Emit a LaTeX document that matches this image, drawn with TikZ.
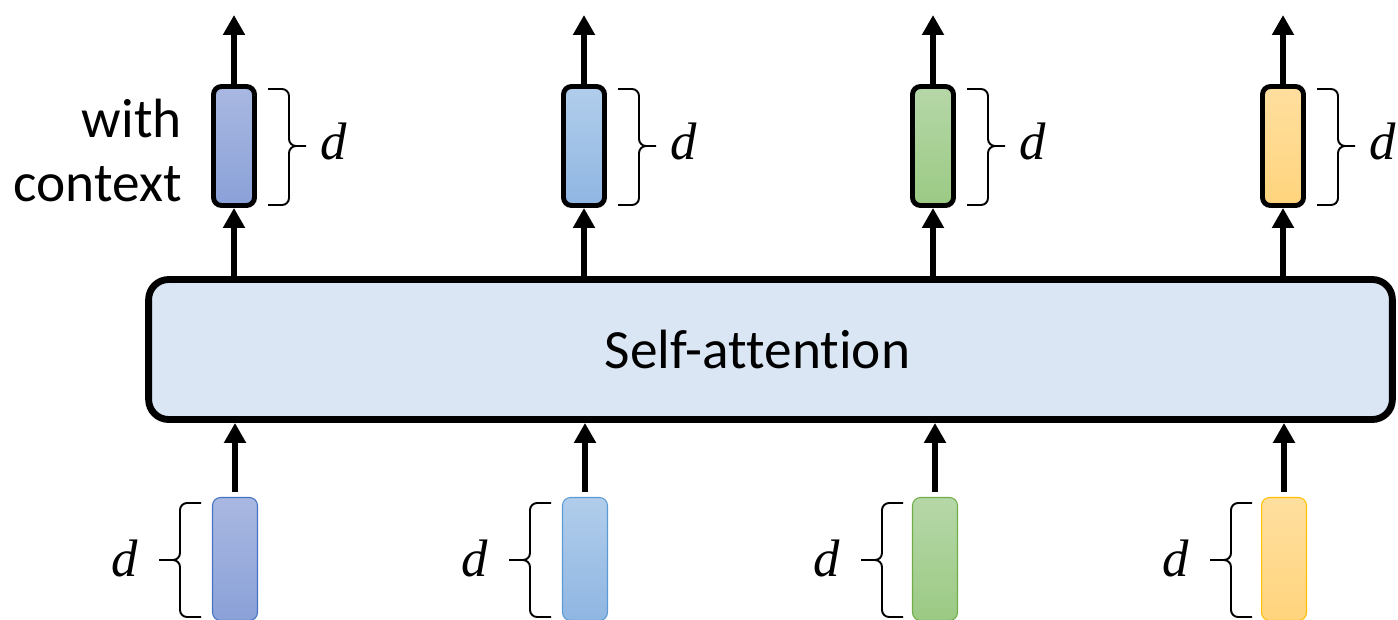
\documentclass[tikz,border=0pt]{standalone}
\usepackage{fontspec}
\setmainfont[Ligatures=NoCommon]{Carlito}
\newfontfamily\dfont{Liberation Serif}
\usetikzlibrary{arrows.meta,positioning}
\definecolor{saFill}{HTML}{DAE6F4}
\definecolor{bluA}{HTML}{A9B8E1}\definecolor{bluB}{HTML}{8AA1D8}\definecolor{bluL}{HTML}{4472C4}
\definecolor{skyA}{HTML}{B1CDEB}\definecolor{skyB}{HTML}{8FB6E2}\definecolor{skyL}{HTML}{5B9BD5}
\definecolor{grnA}{HTML}{B6D7A8}\definecolor{grnB}{HTML}{9BCA84}\definecolor{grnL}{HTML}{70AD47}
\definecolor{ylwA}{HTML}{FFDF9F}\definecolor{ylwB}{HTML}{FFD47D}\definecolor{ylwL}{HTML}{FFC000}
\tikzset{
  outbox/.style={draw=black,line width=2.8pt,rounded corners=0.16cm,minimum width=0.82cm,minimum height=2.38cm,inner sep=0pt},
  inbox/.style={draw,line width=0.6pt,rounded corners=0.16cm,minimum width=0.9cm,minimum height=2.46cm,inner sep=0pt},
  arr/.style={line width=3.9pt,-{Triangle[length=0.4cm,width=0.42cm]}},
  brc/.style={line width=1.1pt,rounded corners=4pt},
  dlab/.style={inner sep=0pt,font=\dfont\itshape\fontsize{30}{30}\selectfont}
}

\begin{document}
\begin{tikzpicture}[x=0.02cm,y=-0.02cm]
\useasboundingbox (0,0) rectangle (1398,619);
\node[draw,line width=3.9pt,rounded corners=0.4cm,fill=saFill,minimum width=24.88cm,minimum height=2.8cm,
  label={[xshift=-0.26cm,font=\fontsize{31.5}{36}\selectfont]center:Self-attention}] (sa) at (770.5,349.5) {};
% outputs
\node[outbox,top color=bluA,bottom color=bluB] (out1) at (234,146) {};
\node[outbox,top color=skyA,bottom color=skyB] (out2) at (584,146) {};
\node[outbox,top color=grnA,bottom color=grnB] (out3) at (933,146) {};
\node[outbox,top color=ylwA,bottom color=ylwB] (out4) at (1283,146) {};
\node[left=0.58cm of out1,yshift=-0.09cm,inner sep=0pt,align=right,font=\fontsize{31.5}{36}\selectfont] (ctx) {with\\context};
% inputs
\node[inbox,draw=bluL,top color=bluA,bottom color=bluB] (in1) at (235,559) {};
\node[inbox,draw=skyL,top color=skyA,bottom color=skyB] (in2) at (585,559) {};
\node[inbox,draw=grnL,top color=grnA,bottom color=grnB] (in3) at (935,559) {};
\node[inbox,draw=ylwL,top color=ylwA,bottom color=ylwB] (in4) at (1284,559) {};
\coordinate (top1) at (234,15);
\coordinate (top2) at (584,15);
\coordinate (top3) at (933,15);
\coordinate (top4) at (1283,15);
\draw[arr](out1.north)--(top1);
\draw[arr](out2.north)--(top2);
\draw[arr](out3.north)--(top3);
\draw[arr](out4.north)--(top4);
\draw[arr](sa.north-|out1)--(out1.south);
\draw[arr](sa.north-|out2)--(out2.south);
\draw[arr](sa.north-|out3)--(out3.south);
\draw[arr](sa.north-|out4)--(out4.south);
\draw[arr]([yshift=0.1cm]in1.north)--(in1|-sa.south);
\draw[arr]([yshift=0.1cm]in2.north)--(in2|-sa.south);
\draw[arr]([yshift=0.1cm]in3.north)--(in3|-sa.south);
\draw[arr]([yshift=0.1cm]in4.north)--(in4|-sa.south);
% braces
\draw[brc](268,89)--(289,89)--(289,146)--(306,146) (306,146)--(289,146)--(289,205)--(268,205);
\draw[brc](618,89)--(639,89)--(639,146)--(656,146) (656,146)--(639,146)--(639,205)--(618,205);
\draw[brc](967,89)--(988,89)--(988,146)--(1005,146) (1005,146)--(988,146)--(988,205)--(967,205);
\draw[brc](1317,89)--(1338,89)--(1338,146)--(1355,146) (1355,146)--(1338,146)--(1338,205)--(1317,205);
\draw[brc](201,503)--(180,503)--(180,560)--(159,560) (159,560)--(180,560)--(180,617)--(201,617);
\draw[brc](551,503)--(530,503)--(530,560)--(509,560) (509,560)--(530,560)--(530,617)--(551,617);
\draw[brc](903,503)--(882,503)--(882,560)--(861,560) (861,560)--(882,560)--(882,617)--(903,617);
\draw[brc](1252,503)--(1231,503)--(1231,560)--(1210,560) (1210,560)--(1231,560)--(1231,617)--(1252,617);
\node[dlab] (dout1) at (334,141) {d};
\node[dlab] (dout2) at (684,141) {d};
\node[dlab] (dout3) at (1033,141) {d};
\node[dlab] (dout4) at (1383,141) {d};
\node[dlab] (din1) at (125,558) {d};
\node[dlab] (din2) at (475,558) {d};
\node[dlab] (din3) at (827,558) {d};
\node[dlab] (din4) at (1176,558) {d};
\end{tikzpicture}
\end{document}
